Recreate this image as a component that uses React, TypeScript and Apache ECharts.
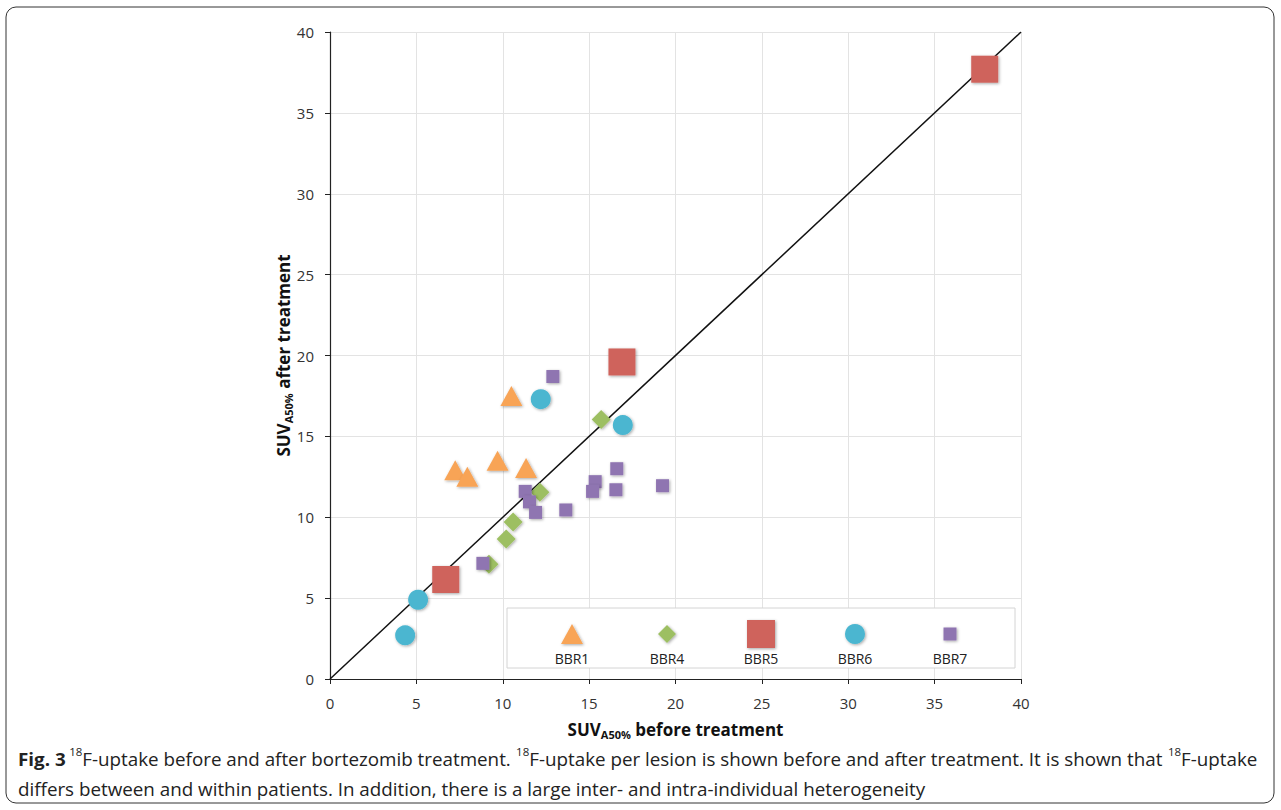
import React, { useEffect, useRef } from "react";
import * as echarts from "echarts";

// ---- data ----
const seriesNames = ["BBR1", "BBR4", "BBR5", "BBR6", "BBR7"];
const bbr1X = [10.5, 7.25, 7.95, 9.7, 11.35];
const bbr1Y = [17.5, 12.9, 12.5, 13.5, 13.05];
const bbr4X = [15.7, 12.15, 10.6, 10.2, 9.2];
const bbr4Y = [16.05, 11.55, 9.7, 8.65, 7.1];
const bbr5X = [37.9, 16.9, 6.7];
const bbr5Y = [37.7, 19.6, 6.15];
const bbr6X = [12.2, 16.95, 5.1, 4.35];
const bbr6Y = [17.3, 15.7, 4.9, 2.7];
const bbr7X = [12.9, 16.6, 15.35, 15.2, 16.55, 19.25, 11.3, 11.55, 11.9, 13.65, 8.85];
const bbr7Y = [18.7, 13.0, 12.2, 11.6, 11.7, 11.95, 11.6, 10.95, 10.3, 10.45, 7.15];
const identityLine = [0, 40];

const colors = ["#F8A457", "#9DBF62", "#CF635C", "#4BB6D0", "#8F74B1"];
const FONT = "'Open Sans', sans-serif";

const zip = (xs: number[], ys: number[]) => xs.map((x, i) => [x, ys[i]]);

export default function App() {
  const ref = useRef<HTMLDivElement>(null);
  useEffect(() => {
    if (!ref.current) return;
    const chart = echarts.init(ref.current, null, { renderer: "svg" });
    const shadow = {
      shadowBlur: 3,
      shadowColor: "rgba(0,0,0,0.35)",
      shadowOffsetX: 1,
      shadowOffsetY: 1,
    };
    const mk = (name: string, data: number[][], symbol: string, size: any, color: string) => ({
      name,
      type: "scatter",
      data,
      symbol,
      symbolSize: size,
      itemStyle: { color, opacity: 1, ...shadow },
      z: 3,
    });

    // legend drawn as graphic
    const legX = [572, 667, 761, 855, 950];
    const legY = 634;
    const legendSymbols: any[] = [
      { type: "polygon", x: legX[0], y: legY, shape: { points: [[0, -10], [11, 10], [-11, 10]] }, style: { fill: colors[0], ...shadow } },
      { type: "polygon", x: legX[1], y: legY, shape: { points: [[0, -9], [9, 0], [0, 9], [-9, 0]] }, style: { fill: colors[1], ...shadow } },
      { type: "rect", x: legX[2] - 14, y: legY - 14, shape: { x: 0, y: 0, width: 28, height: 28 }, style: { fill: colors[2], ...shadow } },
      { type: "circle", x: legX[3], y: legY, shape: { cx: 0, cy: 0, r: 10 }, style: { fill: colors[3], ...shadow } },
      { type: "rect", x: legX[4] - 6.5, y: legY - 6.5, shape: { x: 0, y: 0, width: 13, height: 13 }, style: { fill: colors[4], ...shadow } },
    ];
    const legendTexts = seriesNames.map((n, i) => ({
      type: "text",
      x: legX[i],
      y: 658,
      style: { text: n, fill: "#222", font: `14px ${FONT}`, align: "center", verticalAlign: "middle" },
    }));

    const capRich = {
      b: { fontFamily: FONT, fontSize: 18, fontWeight: "bold", color: "#111", lineHeight: 30 },
      n: { fontFamily: FONT, fontSize: 18, color: "#222", lineHeight: 30 },
      sup: { fontFamily: FONT, fontSize: 11, color: "#222", lineHeight: 30, verticalAlign: "top", padding: [2, 0, 0, 0] },
    };
    const captionText =
      "{b|Fig. 3} {sup|18}{n|F-uptake before and after bortezomib treatment. }{sup|18}{n|F-uptake per lesion is shown before and after treatment. It is shown that }{sup|18}{n|F-uptake}\n" +
      "{n|differs between and within patients. In addition, there is a large inter- and intra-individual heterogeneity}";

    const axisNameRich = {
      b: { fontFamily: FONT, fontSize: 17, fontWeight: "bold", color: "#111" },
      s: { fontFamily: FONT, fontSize: 11, fontWeight: "bold", color: "#111", verticalAlign: "bottom", padding: [10, 0, 0, 0] },
    };

    chart.setOption({
      animation: false,
      backgroundColor: "#fff",
      grid: { left: 330, right: 260, top: 32, bottom: 131, containLabel: false },
      xAxis: {
        type: "value",
        min: 0,
        max: 40,
        interval: 5,
        axisLine: { show: true, lineStyle: { color: "#222", width: 1.2 } },
        axisTick: { show: true, length: 5, lineStyle: { color: "#222" } },
        axisLabel: { fontFamily: FONT, fontSize: 15, color: "#333", margin: 16 },
        splitLine: { show: true, lineStyle: { color: "#e3e3e3", width: 1 } },
        name: "{b|SUV}{s|A50%}{b| before treatment}",
        nameLocation: "middle",
        nameGap: 40,
        nameMoveOverlap: false,
        nameTextStyle: { rich: axisNameRich },
      },
      yAxis: {
        type: "value",
        min: 0,
        max: 40,
        interval: 5,
        axisLine: { show: true, lineStyle: { color: "#222", width: 1.2 } },
        axisTick: { show: true, length: 5, lineStyle: { color: "#222" } },
        axisLabel: { fontFamily: FONT, fontSize: 15, color: "#333", margin: 16 },
        splitLine: { show: true, lineStyle: { color: "#e3e3e3", width: 1 } },
        name: "{b|SUV}{s|A50%}{b| after treatment}",
        nameLocation: "middle",
        nameGap: 36,
        nameRotate: 90,
        nameMoveOverlap: false,
        nameTextStyle: { rich: axisNameRich },
      },
      series: [
        {
          type: "line",
          data: [[identityLine[0], identityLine[0]], [identityLine[1], identityLine[1]]],
          symbol: "none",
          lineStyle: { color: "#111", width: 1.5 },
          z: 2,
          silent: true,
        },
        mk(seriesNames[0], zip(bbr1X, bbr1Y), "triangle", [22, 20], colors[0]),
        mk(seriesNames[1], zip(bbr4X, bbr4Y), "diamond", 19, colors[1]),
        mk(seriesNames[2], zip(bbr5X, bbr5Y), "rect", 27, colors[2]),
        mk(seriesNames[3], zip(bbr6X, bbr6Y), "circle", 20, colors[3]),
        mk(seriesNames[4], zip(bbr7X, bbr7Y), "rect", 13, colors[4]),
      ],
      graphic: [
        {
          type: "rect",
          x: 6,
          y: 7,
          shape: { x: 0, y: 0, width: 1268, height: 796, r: 10 },
          style: { fill: "none", stroke: "#333", lineWidth: 1 },
          z: 0,
          silent: true,
        },
        {
          type: "rect",
          x: 507,
          y: 608,
          shape: { x: 0, y: 0, width: 508, height: 60 },
          style: { fill: "#fff", stroke: "#d4d4d4", lineWidth: 1 },
          z: 10,
        },
        ...legendSymbols.map((s) => ({ ...s, z: 11 })),
        ...legendTexts.map((t) => ({ ...t, z: 11 })),
        {
          type: "text",
          x: 18,
          y: 744,
          scaleX: 1.045,
          style: { text: captionText, rich: capRich, fill: "#222" },
          z: 11,
        },
      ],
    });
    return () => chart.dispose();
  }, []);
  return <div ref={ref} style={{ position: "fixed", left: 0, top: 0, width: 1281, height: 810 }} />;
}
